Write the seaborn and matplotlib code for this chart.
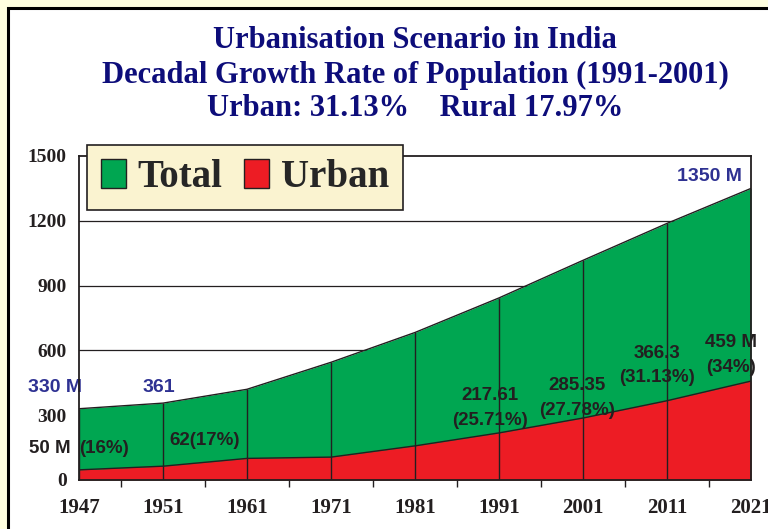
import numpy as np
import pandas as pd
import matplotlib.pyplot as plt
import matplotlib.patches as mpatches
import seaborn as sns

# datos (millones)
years = ["1947", "1951", "1961", "1971", "1981", "1991", "2001", "2011", "2021"]
total = [330, 356, 420, 545, 683, 843, 1017, 1188, 1350]
urban = [47, 64, 100, 106, 158, 218, 287, 367, 458]
y_ticks = [0, 300, 600, 900, 1200, 1500]

urban_labels = ["50 M", "(16%)", "62(17%)", "217.61\n(25.71%)", "285.35\n(27.78%)",
                "366.3\n(31.13%)", "459 M\n(34%)"]

GREEN = "#00A651"
RED = "#ED1C24"
DARK = "#231F20"
NAVY = "#0D0D7A"
BLUE = "#2E3192"

sns.set_style("white")
plt.rcParams["font.family"] = ["Liberation Serif", "DejaVu Serif"]

df = pd.DataFrame({"year": years, "total": total, "urban": urban})
df["pos"] = np.arange(len(df))

fig = plt.figure(figsize=(7.68, 5.29), dpi=100, facecolor="#FFFFE0")
# panel blanco con marco
fig.patches.append(mpatches.Rectangle((8 / 768, -0.1), 1.2, 1.1 - 8 / 529,
                                      transform=fig.transFigure, facecolor="white",
                                      edgecolor="black", linewidth=2.2, zorder=-5))

ax = fig.add_axes([79 / 768, 49 / 529, 672 / 768, 324 / 529])
ax.set_zorder(2)
ax.set_facecolor("none")

for v in y_ticks[1:-1]:
    ax.axhline(v, color=DARK, lw=0.9, zorder=1)

ax.fill_between(df["pos"], 0, df["total"], color=GREEN, zorder=2, lw=0)
ax.fill_between(df["pos"], 0, df["urban"], color=RED, zorder=3, lw=0)
sns.lineplot(data=df, x="pos", y="total", ax=ax, color=DARK, lw=1, zorder=4)
sns.lineplot(data=df, x="pos", y="urban", ax=ax, color=DARK, lw=1, zorder=4)
ax.vlines(df["pos"], 0, df["total"], color=DARK, lw=1, zorder=4)

ax.set_xlim(0, len(years) - 1)
ax.set_ylim(0, 1500)
ax.set_xlabel("")
ax.set_ylabel("")
ax.set_xticks(df["pos"])
ax.set_xticklabels(years, fontsize=15, fontweight="bold", color=DARK)
ax.set_xticks(df["pos"][:-1] + 0.5, minor=True)
ax.set_yticks(y_ticks)
ax.set_yticklabels(y_ticks, fontsize=14, fontweight="bold", color=DARK)
ax.tick_params(axis="x", which="major", direction="out", length=5, width=1,
               color=DARK, pad=8)
ax.tick_params(axis="x", which="minor", direction="inout", length=10, width=1,
               color=DARK, bottom=True)
ax.tick_params(axis="y", direction="out", length=5, width=1, color=DARK, pad=4)
for s in ax.spines.values():
    s.set_visible(True)
    s.set_color(DARK)
    s.set_linewidth(1.3)
    s.set_zorder(5)
ax.set_axisbelow(False)

# etiquetas azules (total)
sans = ["Liberation Sans", "DejaVu Sans"]
ax.text(-0.286, 426, "330 M", ha="center", va="center", color=BLUE, fontsize=14,
        fontweight="bold", family=sans, clip_on=False)
ax.text(0.95, 426, "361", ha="center", va="center", color=BLUE, fontsize=14,
        fontweight="bold", family=sans)
ax.text(7.5, 1406, "1350 M", ha="center", va="center", color=BLUE, fontsize=14,
        fontweight="bold", family=sans)

# etiquetas urbanas
lab_pos = [(-0.35, 148), (0.3, 148), (1.5, 185), (4.89, 332),
           (5.93, 380), (6.88, 530), (7.76, 578)]
for txt, (x, y) in zip(urban_labels, lab_pos):
    ax.text(x, y, txt, ha="center", va="center", color=DARK, fontsize=13.5,
            fontweight="bold", family=sans, linespacing=1.6, clip_on=False)

# leyenda
handles = [mpatches.Patch(facecolor=GREEN, edgecolor=DARK, label="Total"),
           mpatches.Patch(facecolor=RED, edgecolor=DARK, label="Urban")]
leg = ax.legend(handles=handles, loc="upper left", bbox_to_anchor=(0.012, 1.034),
                borderaxespad=0, ncol=2, frameon=True, fancybox=False,
                prop={"weight": "bold", "size": 28}, handlelength=0.65,
                handleheight=0.8, handletextpad=0.3, columnspacing=0.55,
                borderpad=0.35, edgecolor=DARK, facecolor="#FAF3D0", framealpha=1)
leg.get_frame().set_linewidth(1.2)
leg.set_zorder(6)

# titulo
title_lines = ["Urbanisation Scenario in India",
               "Decadal Growth Rate of Population (1991-2001)",
               "Urban: 31.13%    Rural 17.97%"]
for i, t in enumerate(title_lines):
    fig.text(415 / 768, 1 - (41 + 34 * i) / 529, t, ha="center", va="center",
             color=NAVY, fontsize=22, fontweight="bold")

fig.savefig("out.png", dpi=100, facecolor=fig.get_facecolor())
